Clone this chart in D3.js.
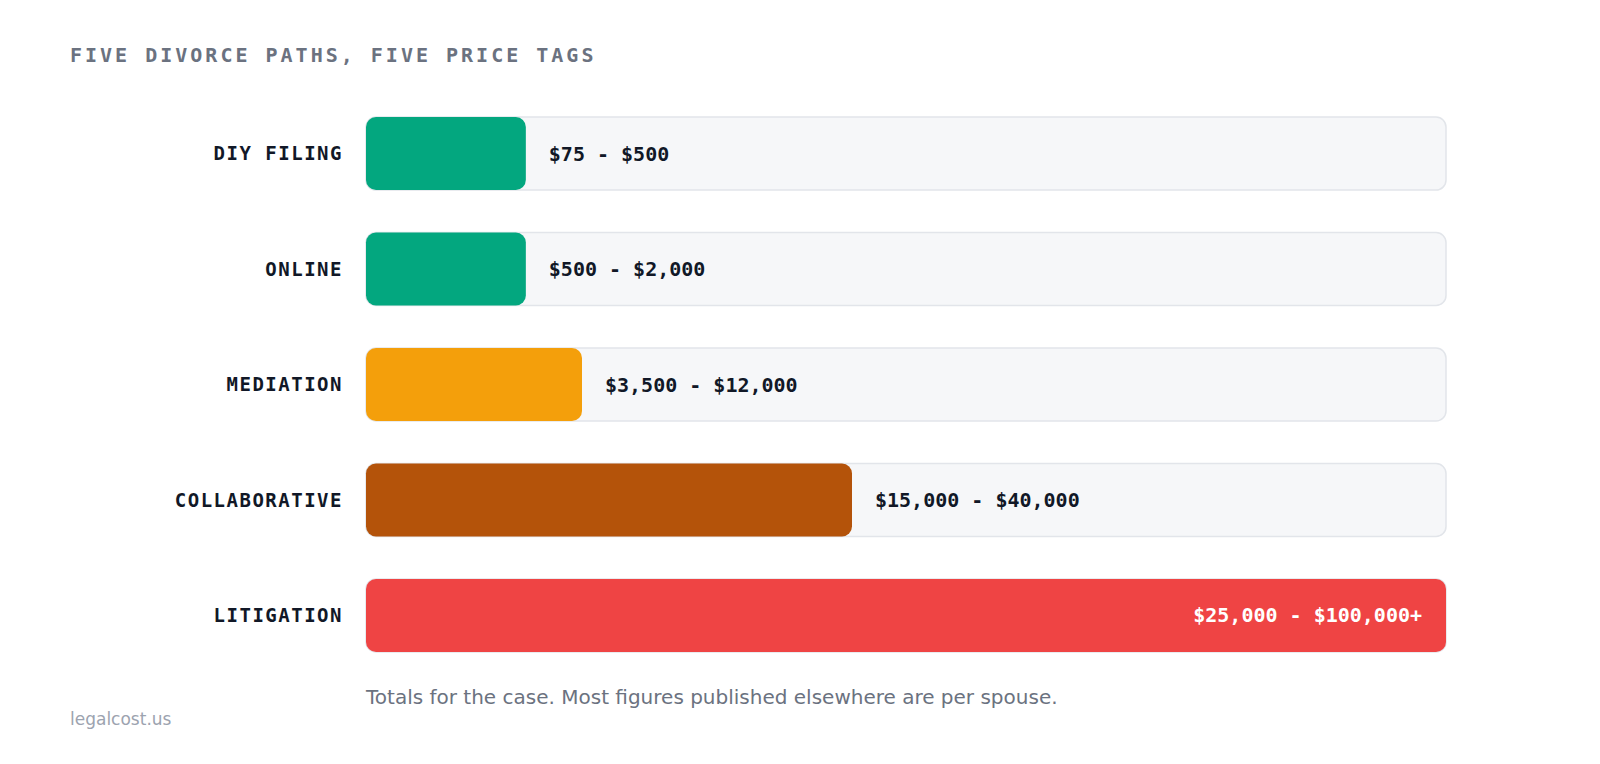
<!DOCTYPE html>
<html>
<head>
<meta charset="utf-8">
<script src="https://cdn.jsdelivr.net/npm/d3@7"></script>
<style>
  body { margin: 0; background: #fff; }
</style>
</head>
<body>
<script>
var categories = ["DIY FILING", "ONLINE", "MEDIATION", "COLLABORATIVE", "LITIGATION"];
var barShare = [14.8, 14.8, 20, 45, 100];
var rangeLabels = ["$75 - $500", "$500 - $2,000", "$3,500 - $12,000", "$15,000 - $40,000", "$25,000 - $100,000+"];
var colors = ["#03a77f", "#03a77f", "#f49f0b", "#b4530a", "#ef4444"];

var W = 1600, H = 764;
var svg = d3.select("body").append("svg").attr("width", W).attr("height", H);
var mono = "'DejaVu Sans Mono', monospace", sans = "'DejaVu Sans', sans-serif";

var x = d3.scaleLinear().domain([0, 100]).range([366, 1446]);
var y = d3.scaleBand().domain(categories).range([132 - 35 / 2, 637 + 35 / 2]).paddingInner(0.324).paddingOuter(0);

svg.append("text").attr("x", 70).attr("y", 62)
  .style("font", "bold 20px " + mono).style("letter-spacing", "3px")
  .attr("fill", "#6b7280").text("FIVE DIVORCE PATHS, FIVE PRICE TAGS");

var rows = svg.selectAll(".row").data(categories).enter().append("g").attr("class", "row");
var bh = 73;
function rowTop(d) { return y(d) + y.bandwidth() / 2 - bh / 2; }

rows.append("rect").attr("x", x(0)).attr("y", rowTop).attr("width", x(100) - x(0)).attr("height", bh)
  .attr("rx", 10).attr("fill", "#f6f7f9").attr("stroke", "#e2e5ea").attr("stroke-width", 1.5);

rows.append("rect").attr("x", x(0)).attr("y", rowTop)
  .attr("width", function(d, i) { return x(barShare[i]) - x(0); }).attr("height", bh)
  .attr("rx", 10).attr("fill", function(d, i) { return colors[i]; });

rows.append("text").attr("x", 343).attr("y", function(d) { return rowTop(d) + bh / 2; })
  .attr("dy", "0.35em").attr("text-anchor", "end")
  .style("font", "bold 19px " + mono).style("letter-spacing", "1.5px")
  .attr("fill", "#111827").text(function(d) { return d; });

rows.append("text")
  .attr("x", function(d, i) { return barShare[i] >= 100 ? x(100) - 24 : x(barShare[i]) + 23; })
  .attr("y", function(d) { return rowTop(d) + bh / 2; }).attr("dy", "0.35em")
  .attr("text-anchor", function(d, i) { return barShare[i] >= 100 ? "end" : "start"; })
  .style("font", "bold 20px " + mono)
  .attr("fill", function(d, i) { return barShare[i] >= 100 ? "#fff" : "#111827"; })
  .text(function(d, i) { return rangeLabels[i]; });

svg.append("text").attr("x", 366).attr("y", 704).style("font", "20px " + sans)
  .attr("fill", "#6b7280").text("Totals for the case. Most figures published elsewhere are per spouse.");
svg.append("text").attr("x", 70).attr("y", 725).style("font", "17px " + sans)
  .attr("fill", "#9ca3af").text("legalcost.us");
</script>
</body>
</html>
